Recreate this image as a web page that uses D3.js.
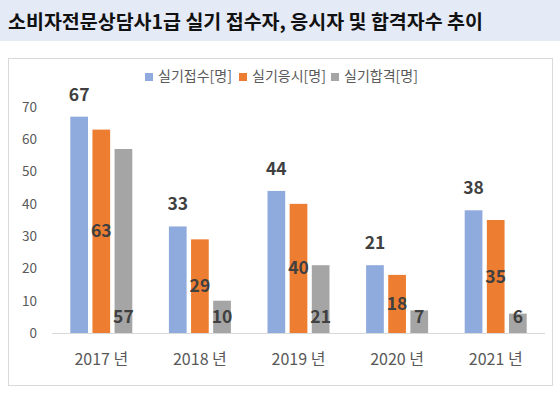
<!DOCTYPE html>
<html>
<head>
<meta charset="utf-8">
<script src="https://cdn.jsdelivr.net/npm/d3@7"></script>
<style>
  body { margin: 0; background: #fff; }
  text { font-family: "Noto Sans CJK KR", "Noto Sans", sans-serif; }
</style>
</head>
<body>
<svg id="chart"></svg>
<script>
const width = 560;
const height = 397;

const years = ['2017 년', '2018 년', '2019 년', '2020 년', '2021 년'];
const seriesNames = ['실기접수[명]', '실기응시[명]', '실기합격[명]'];
const applied = [67, 33, 44, 21, 38];
const tested = [63, 29, 40, 18, 35];
const passed = [57, 10, 21, 7, 6];
const yTicks = [0, 10, 20, 30, 40, 50, 60, 70];
const colors = ['#8faadc', '#ed7d31', '#a5a5a5'];

const seriesValues = [applied, tested, passed];
const rows = years.map((yr, i) => ({
    year: yr,
    values: seriesNames.map((s, j) => ({ series: s, idx: j, value: seriesValues[j][i] }))
}));

const svg = d3.select('#chart')
    .attr('width', width)
    .attr('height', height);

// title bar
svg.append('rect')
    .attr('x', 0).attr('y', 0)
    .attr('width', width).attr('height', 41)
    .attr('fill', '#e4eaf6');

svg.append('text')
    .attr('x', 8).attr('y', 29)
    .attr('font-size', 19.5)
    .attr('font-weight', 'bold')
    .attr('fill', '#111')
    .text('소비자전문상담사1급 실기 접수자, 응시자 및 합격자수 추이');

// chart frame
svg.append('rect')
    .attr('x', 8.5).attr('y', 58.5)
    .attr('width', 544).attr('height', 327)
    .attr('fill', '#fff')
    .attr('stroke', '#d9d9d9');

const x0 = d3.scaleBand().domain(years).range([52, 545]).padding(0);
const x1 = d3.scaleBand().domain(seriesNames).paddingInner(0.2);
x1.range([x0.bandwidth() / 2 - 31, x0.bandwidth() / 2 + 31]);
const y = d3.scaleLinear().domain([0, 70]).range([333, 107]);

// y axis labels
const yAxis = svg.append('g')
    .attr('transform', 'translate(45,0)')
    .call(d3.axisLeft(y).tickValues(yTicks).tickSize(0).tickPadding(8));
yAxis.select('.domain').remove();
yAxis.selectAll('text')
    .attr('font-size', 13.5)
    .attr('fill', '#595959')
    .style('font-family', '"Noto Sans CJK KR", sans-serif');

// bars
const groups = svg.append('g').selectAll('g')
    .data(rows)
    .join('g')
    .attr('transform', d => `translate(${x0(d.year)},0)`);

groups.selectAll('rect')
    .data(d => d.values)
    .join('rect')
    .attr('x', d => x1(d.series))
    .attr('y', d => y(d.value))
    .attr('width', x1.bandwidth())
    .attr('height', d => y(0) - y(d.value))
    .attr('fill', d => colors[d.idx]);

// baseline
svg.append('line')
    .attr('x1', 52).attr('x2', 545)
    .attr('y1', y(0) + 0.5).attr('y2', y(0) + 0.5)
    .attr('stroke', '#d9d9d9');

// data labels
groups.selectAll('text.lbl')
    .data(d => d.values)
    .join('text')
    .attr('class', 'lbl')
    .attr('x', d => x1(d.series) + x1.bandwidth() / 2)
    .attr('y', d => {
        if (d.idx === 0) return y(d.value) - 16;
        if (d.idx === 1) return (y(d.value) + y(0)) / 2 + 6;
        return y(0) - 10;
    })
    .attr('text-anchor', 'middle')
    .attr('font-size', 17.5)
    .attr('font-weight', 'bold')
    .attr('fill', '#404040')
    .text(d => d.value);

// x axis labels
const xAxis = svg.append('g')
    .attr('transform', `translate(0,${y(0)})`)
    .call(d3.axisBottom(x0).tickSize(0).tickPadding(21));
xAxis.select('.domain').remove();
xAxis.selectAll('text')
    .attr('font-size', 16)
    .attr('fill', '#595959')
    .style('font-family', '"Noto Sans CJK KR", sans-serif');

// legend
const legendX = [145, 239, 331];
const legend = svg.append('g').selectAll('g')
    .data(seriesNames)
    .join('g')
    .attr('transform', (d, i) => `translate(${legendX[i]},72)`);
legend.append('rect')
    .attr('width', 8).attr('height', 8)
    .attr('y', 1)
    .attr('fill', (d, i) => colors[i]);
legend.append('text')
    .attr('x', 13).attr('y', 9)
    .attr('font-size', 14)
    .attr('fill', '#595959')
    .text(d => d);
</script>
</body>
</html>
